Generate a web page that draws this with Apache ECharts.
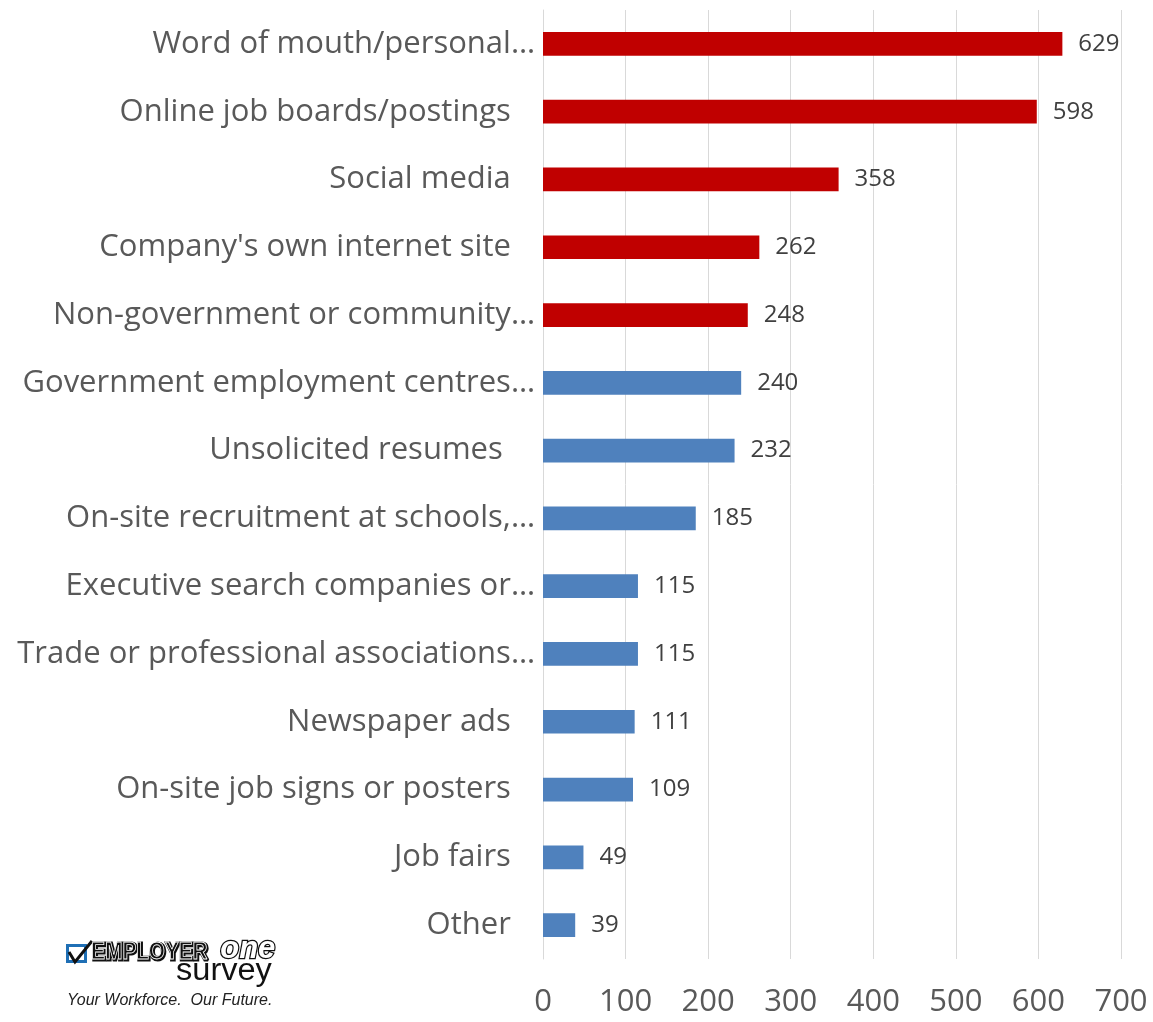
<!DOCTYPE html>
<html>
<head>
<meta charset="utf-8">
<script src="https://cdn.jsdelivr.net/npm/echarts@6/dist/echarts.min.js"></script>
<style>
  html, body { margin: 0; padding: 0; background: #fff; }
  #chart { width: 1153px; height: 1022px; }
</style>
</head>
<body>
<div id="chart"></div>
<script>
const categories = [
  'Word of mouth/personal…',
  'Online job boards/postings   ',
  'Social media   ',
  "Company's own internet site   ",
  'Non-government or community…',
  'Government employment centres…',
  'Unsolicited resumes    ',
  'On-site recruitment at schools,…',
  'Executive search companies or…',
  'Trade or professional associations…',
  'Newspaper ads   ',
  'On-site job signs or posters   ',
  'Job fairs   ',
  'Other   '
]
const values = [629, 598, 358, 262, 248, 240, 232, 185, 115, 115, 111, 109, 49, 39]
const xTicks = [0, 100, 200, 300, 400, 500, 600, 700]
const highlightCount = 5

const chart = echarts.init(document.getElementById('chart'))

const font = '"Open Sans", "Noto Sans", sans-serif'
const logoFont = '"Liberation Sans", sans-serif'

chart.setOption({
  animation: false,
  grid: { left: 543, right: 32, top: 10, bottom: 63 },
  xAxis: {
    type: 'value',
    min: xTicks[0],
    max: xTicks[xTicks.length - 1],
    interval: 100,
    axisLine: { show: false },
    axisTick: { show: false },
    splitLine: { lineStyle: { color: '#d9d9d9', width: 1 } },
    axisLabel: { color: '#595959', fontSize: 31, fontFamily: font, margin: 28 }
  },
  yAxis: {
    type: 'category',
    inverse: true,
    data: categories,
    axisLine: { show: true, lineStyle: { color: '#d9d9d9' } },
    axisTick: { show: false },
    axisLabel: { color: '#595959', fontSize: 31, fontFamily: font, margin: 8 }
  },
  series: [{
    type: 'bar',
    data: values,
    barCategoryGap: '65%',
    itemStyle: {
      color: (p) => (p.dataIndex < highlightCount ? '#c00000' : '#4f81bd')
    },
    label: {
      show: true,
      position: 'right',
      distance: 16,
      color: '#404040',
      fontSize: 24,
      fontFamily: font
    }
  }],
  graphic: [
    // logo
    { type: 'rect', left: 66, top: 944, shape: { width: 21, height: 19 },
      style: { fill: '#1f6fb5' } },
    { type: 'rect', left: 69, top: 947, shape: { width: 15, height: 13 },
      style: { fill: '#fff' } },
    { type: 'polyline', shape: { points: [[69, 952], [75, 962], [92, 941]] },
      style: { stroke: '#111', lineWidth: 3, fill: null } },
    { type: 'text', left: 91, top: 941, scaleX: 0.9,
      style: { text: 'EMPLOYER', fill: '#111', stroke: '#111', lineWidth: 3,
        font: 'bold 23px ' + logoFont } },
    { type: 'text', left: 91, top: 941, scaleX: 0.9,
      style: { text: 'EMPLOYER', fill: 'transparent', stroke: '#fff', lineWidth: 0.8,
        font: 'bold 23px ' + logoFont } },
    { type: 'text', left: 219, top: 933,
      style: { text: 'one', fill: '#fff', stroke: '#111', lineWidth: 2.5,
        font: 'bold italic 31px ' + logoFont } },
    { type: 'text', left: 176, top: 956, scaleX: 1.05,
      style: { text: 'survey', fill: '#111', font: '31px ' + logoFont } },
    { type: 'text', left: 67, top: 993,
      style: { text: 'Your Workforce.  Our Future.', fill: '#222',
        font: 'italic 16px ' + logoFont } }
  ]
})
</script>
</body>
</html>
